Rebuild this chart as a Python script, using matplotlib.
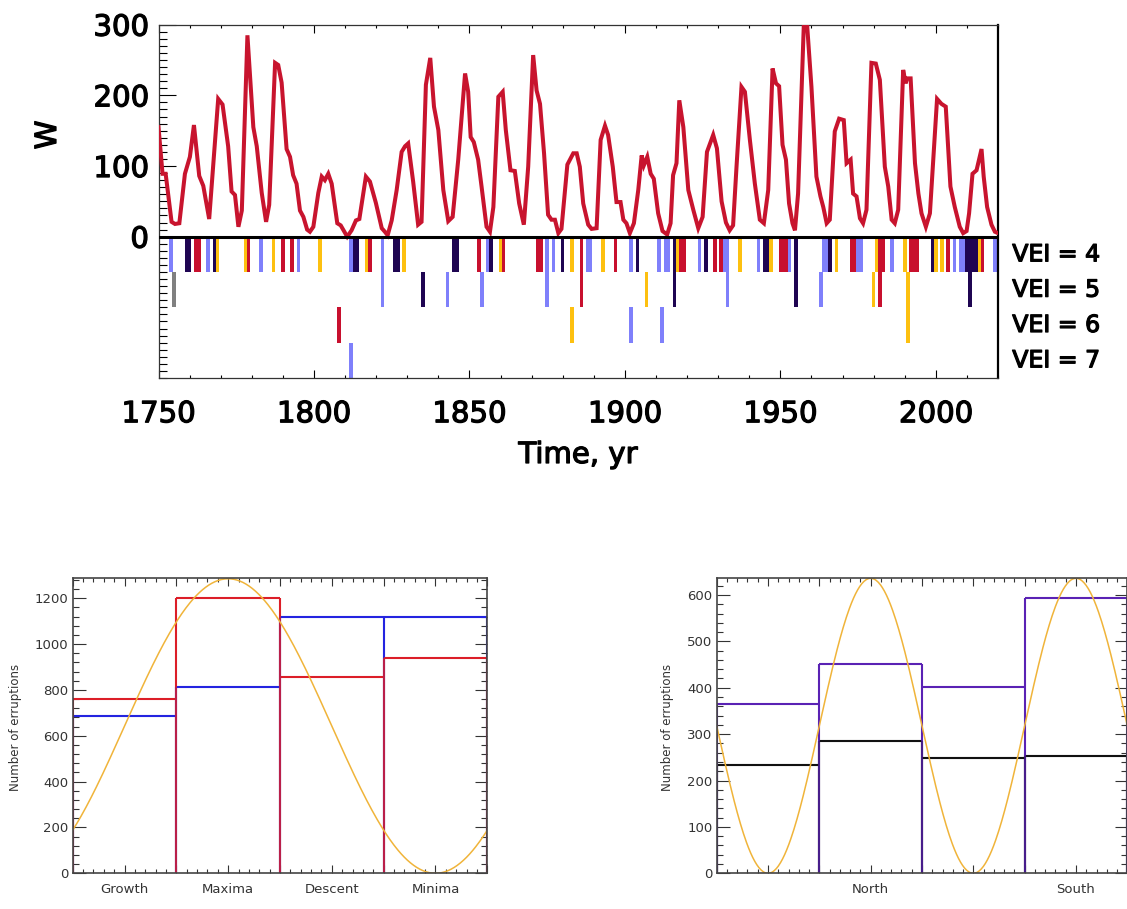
import matplotlib
matplotlib.use("Agg")
import matplotlib.pyplot as plt
from matplotlib.ticker import MultipleLocator, FixedLocator, FixedFormatter
import matplotlib.patheffects as pe
import numpy as np

# ---------------- data ----------------
# Sunspot number W (vertex points of the polyline)
sun_year = [1750.0, 1751.3, 1752.3, 1754.2, 1755.3, 1756.7, 1758.5, 1760.1, 1761.4, 1763.1,
            1764.4, 1766.3, 1769.2, 1770.6, 1772.4, 1773.5, 1774.6, 1775.7, 1776.8, 1778.6,
            1780.5, 1781.6, 1783.2, 1784.6, 1785.6, 1787.5, 1788.5, 1789.6, 1791.2, 1792.3,
            1793.3, 1794.4, 1795.5, 1796.6, 1797.8, 1798.7, 1799.8, 1801.4, 1802.5, 1803.5,
            1804.6, 1805.7, 1807.5, 1808.6, 1810.7, 1812.1, 1813.5, 1814.6, 1816.7, 1818.0,
            1819.9, 1821.8, 1822.8, 1823.7, 1825.0, 1826.6, 1828.2, 1829.3, 1830.3, 1831.9,
            1833.5, 1834.6, 1836.0, 1837.4, 1838.6, 1840.0, 1841.6, 1843.2, 1844.6, 1846.4,
            1848.6, 1849.6, 1850.4, 1851.4, 1852.8, 1853.9, 1855.5, 1856.6, 1857.7, 1859.3,
            1860.7, 1861.7, 1863.2, 1864.6, 1866.0, 1867.5, 1868.9, 1870.5, 1871.6, 1872.7,
            1874.0, 1875.3, 1876.4, 1877.5, 1878.6, 1879.6, 1881.5, 1883.4, 1884.5, 1885.5,
            1886.6, 1888.2, 1889.3, 1890.9, 1892.2, 1893.6, 1894.6, 1896.1, 1897.3, 1898.6,
            1899.5, 1900.5, 1901.6, 1902.9, 1904.3, 1905.4, 1906.1, 1907.2, 1908.3, 1909.3,
            1910.7, 1912.1, 1913.6, 1914.7, 1915.5, 1916.6, 1917.5, 1918.8, 1920.4, 1922.0,
            1923.6, 1925.0, 1926.4, 1928.4, 1929.6, 1931.1, 1932.5, 1933.7, 1934.8, 1935.9,
            1937.5, 1938.6, 1940.2, 1941.8, 1943.4, 1944.7, 1946.1, 1947.5, 1948.6, 1949.6,
            1950.7, 1951.8, 1952.8, 1953.9, 1954.7, 1955.7, 1957.6, 1958.6, 1960.0, 1961.6,
            1962.9, 1963.8, 1964.9, 1965.9, 1967.5, 1968.9, 1970.4, 1971.3, 1972.6, 1973.4,
            1974.5, 1975.6, 1976.6, 1977.7, 1979.3, 1980.7, 1982.0, 1983.6, 1984.7, 1985.8,
            1986.8, 1987.9, 1989.5, 1990.3, 1990.8, 1991.9, 1993.3, 1994.4, 1995.4, 1996.8,
            1998.1, 2000.4, 2001.8, 2003.2, 2004.7, 2006.1, 2007.7, 2008.8, 2009.9, 2010.7,
            2011.8, 2013.1, 2014.7, 2015.4, 2016.5, 2017.9, 2019.0, 2020.0]
sun_w = [155, 89, 89, 21, 18, 19, 89, 113, 158, 86,
         72, 25, 195, 187, 128, 64, 59, 14, 37, 285,
         155, 128, 62, 21, 45, 246, 243, 218, 124, 113,
         87, 75, 37, 28, 10, 7, 14, 62, 85, 80,
         89, 75, 19, 16, 0, 9, 23, 25, 85, 78,
         48, 12, 7, 2, 23, 66, 120, 128, 132, 78,
         17, 21, 215, 253, 184, 151, 66, 22, 28, 109,
         231, 205, 141, 134, 109, 71, 14, 7, 42, 198,
         205, 151, 94, 93, 47, 17, 99, 257, 207, 188,
         118, 31, 24, 24, 5, 11, 102, 118, 118, 99,
         47, 17, 11, 12, 137, 157, 144, 99, 49, 49,
         24, 19, 5, 19, 66, 115, 101, 113, 89, 82,
         33, 8, 3, 19, 87, 104, 193, 155, 66, 38,
         12, 28, 120, 144, 125, 50, 20, 9, 16, 99,
         212, 205, 137, 75, 24, 19, 66, 238, 217, 213,
         130, 109, 47, 19, 9, 61, 307, 300, 212, 85,
         57, 42, 19, 24, 149, 167, 165, 104, 109, 61,
         57, 26, 19, 38, 246, 245, 222, 99, 71, 24,
         19, 38, 236, 217, 224, 224, 104, 61, 33, 14,
         33, 195, 188, 184, 71, 42, 14, 5, 8, 33,
         89, 94, 124, 85, 42, 17, 7, 5]

# Eruptions: year and phase code (B light blue, N navy, R red, G gold, K grey)
vei4_year = [1754, 1759, 1760, 1762, 1763, 1766, 1768, 1769, 1778, 1779, 1783, 1787, 1790, 1793,
             1795, 1802, 1812, 1813, 1814, 1817, 1818, 1822, 1826, 1827, 1829, 1845, 1846, 1853,
             1856, 1857, 1860, 1861, 1872, 1873, 1875, 1877, 1880, 1883, 1886, 1888, 1889, 1893,
             1897, 1902, 1904, 1911, 1913, 1914, 1916, 1917, 1918, 1919, 1924, 1926, 1929, 1931,
             1932, 1933, 1937, 1943, 1945, 1946, 1947, 1950, 1951, 1952, 1953, 1955, 1964, 1965,
             1966, 1968, 1973, 1974, 1975, 1976, 1981, 1982, 1983, 1986, 1990, 1992, 1993, 1994,
             1999, 2000, 2002, 2004, 2006, 2008, 2009, 2010, 2011, 2012, 2013, 2014, 2015, 2019]
vei4_phase = ['B', 'N', 'N', 'R', 'R', 'B', 'N', 'G', 'G', 'R', 'B', 'G', 'R', 'R',
              'B', 'G', 'B', 'N', 'N', 'G', 'R', 'B', 'N', 'N', 'G', 'N', 'N', 'R',
              'B', 'N', 'G', 'R', 'R', 'R', 'B', 'B', 'N', 'G', 'R', 'B', 'B', 'G',
              'R', 'B', 'N', 'B', 'B', 'B', 'N', 'G', 'R', 'R', 'B', 'N', 'R', 'R',
              'B', 'B', 'G', 'B', 'N', 'N', 'G', 'R', 'R', 'R', 'B', 'N', 'B', 'B',
              'N', 'G', 'R', 'R', 'B', 'B', 'G', 'R', 'R', 'B', 'G', 'R', 'R', 'R',
              'N', 'G', 'G', 'R', 'B', 'B', 'B', 'N', 'N', 'N', 'N', 'G', 'R', 'B']
vei5_year = [1755, 1822, 1835, 1843, 1854, 1875, 1886, 1907, 1916, 1933, 1955, 1963, 1980, 1982, 1991, 2011]
vei5_phase = ['K', 'B', 'N', 'B', 'B', 'B', 'R', 'G', 'N', 'B', 'N', 'B', 'G', 'R', 'G', 'N']
vei6_year = [1808, 1883, 1902, 1912, 1991]
vei6_phase = ['R', 'G', 'B', 'B', 'G']
vei7_year = [1812]
vei7_phase = ['B']

# Histograms (bottom panels)
phase_labels = ['Growth', 'Maxima', 'Descent', 'Minima']
phase_red = [760, 1200, 857, 940]
phase_blue = [688, 812, 1120, 1117]
hemi_labels = ['North', 'South']
hemi_purple = [366, 452, 401, 594]
hemi_black = [234, 286, 248, 253]

# ---------------- style ----------------
phase_colors = {'B': '#7f80fb', 'N': '#1f0552', 'R': '#c8102e', 'G': '#fdc010', 'K': '#808080'}
curve_red = '#c8142e'
gold = '#f0b43a'

W, H = 1127, 909
fig = plt.figure(figsize=(W / 100, H / 100), dpi=100)

def fr(x0, y0, x1, y1):
    return [x0 / W, 1 - y1 / H, (x1 - x0) / W, (y1 - y0) / H]

thick = [pe.withStroke(linewidth=0.9, foreground='black')]
big_font = dict(family='DejaVu Sans', weight='normal')

# ---------------- top panel ----------------
ax = fig.add_axes(fr(158.5, 24.7, 998, 378))
ax.set_xlim(1750, 2020)
ax.set_ylim(-200, 300)
ax.plot(sun_year, sun_w, color=curve_red, lw=2.9, solid_joinstyle='miter', zorder=3)
ax.axhline(0, color='black', lw=2.2, zorder=4)

rows = [(vei4_year, vei4_phase, 0), (vei5_year, vei5_phase, -50),
        (vei6_year, vei6_phase, -100), (vei7_year, vei7_phase, -150)]
for yrs, ph, top in rows:
    for yv, p in zip(yrs, ph):
        ax.bar(yv, -50, bottom=top, width=1.15, color=phase_colors[p], linewidth=0, zorder=2)

ax.xaxis.set_major_locator(MultipleLocator(50))
ax.xaxis.set_minor_locator(MultipleLocator(10))
ax.yaxis.set_major_locator(FixedLocator([0, 100, 200, 300]))
ax.yaxis.set_minor_locator(MultipleLocator(10))
ax.tick_params(axis='x', which='both', direction='in', top=True, bottom=True, labelsize=21, pad=16)
ax.tick_params(axis='x', which='major', length=6, width=0.8)
ax.tick_params(axis='x', which='minor', length=2.5, width=0.8)
ax.tick_params(axis='y', which='both', direction='in', left=True, right=False, labelsize=21, pad=7)
ax.tick_params(axis='y', which='major', length=12, width=0.8)
ax.tick_params(axis='y', which='minor', length=6, width=0.8)
for lab in ax.get_xticklabels() + ax.get_yticklabels():
    lab.set_path_effects(thick)
for s in ax.spines.values():
    s.set_linewidth(0.9)
    s.set_color('#333333')
ax.spines['right'].set_linewidth(1.6)
ax.spines['right'].set_color('black')

for i, lab in enumerate(['VEI = 4', 'VEI = 5', 'VEI = 6', 'VEI = 7']):
    ax.text(1.017, -25 - 50 * i, lab, transform=ax.get_yaxis_transform(),
            ha='left', va='center', fontsize=17, path_effects=thick, **big_font)

fig.text(48 / W, 1 - 135 / H, 'W', rotation=90, ha='center', va='center', fontsize=21,
         path_effects=thick, **big_font)
fig.text(578 / W, 1 - 455 / H, 'Time, yr', ha='center', va='center', fontsize=21,
         path_effects=thick, **big_font)

# ---------------- bottom panels ----------------
def outline(a, values, color, lw=1.5, alpha=1.0, z=2):
    edges = np.arange(len(values) + 1)
    for i, v in enumerate(values):
        a.hlines(v, edges[i], edges[i + 1], color=color, lw=lw, alpha=alpha, zorder=z)
    tops = [max(values[i - 1] if i > 0 else 0, values[i] if i < len(values) else 0)
            for i in range(len(values) + 1)]
    a.vlines(edges, 0, tops, color=color, lw=lw, alpha=alpha, zorder=z)

def style_bottom(a, ymax, ymajor, yminor, labels, label_pos):
    a.set_xlim(0, 4)
    a.set_ylim(0, ymax)
    ticks = np.arange(0, 4.01, 0.5)
    names = []
    for t in ticks:
        name = ''
        for lp, lb in zip(label_pos, labels):
            if abs(t - lp) < 1e-6:
                name = lb
        names.append(name)
    a.xaxis.set_major_locator(FixedLocator(ticks))
    a.xaxis.set_major_formatter(FixedFormatter(names))
    a.xaxis.set_minor_locator(MultipleLocator(0.1))
    a.yaxis.set_major_locator(MultipleLocator(ymajor))
    a.yaxis.set_minor_locator(MultipleLocator(yminor))
    a.tick_params(which='both', direction='in', top=True, bottom=True, left=True, right=True,
                  labelsize=9.5, colors='#333333', width=0.8)
    a.tick_params(axis='x', which='major', length=6, pad=7)
    a.tick_params(axis='x', which='minor', length=3)
    a.tick_params(axis='y', which='major', length=9, pad=3)
    a.tick_params(axis='y', which='minor', length=4.5)
    for s in a.spines.values():
        s.set_linewidth(1.2)
        s.set_color('#444444')
        s.set_zorder(5)

centers = [0.5, 1.5, 2.5, 3.5]
xs = np.linspace(0, 4, 400)

axl = fig.add_axes(fr(72.7, 578.3, 487.3, 873.3))
outline(axl, phase_blue, '#2424e0', z=2)
outline(axl, phase_red, '#dc1e28', z=3)
outline(axl, phase_blue, '#2424e0', alpha=0.18, z=3.5)
axl.plot(xs, 642.5 + 642.5 * np.cos(2 * np.pi * (xs - 1.5) / 4), color=gold, lw=1.1, zorder=4)
style_bottom(axl, 1287, 200, 40, phase_labels, centers)

axr = fig.add_axes(fr(716.7, 578.3, 1127.3, 873.3))
outline(axr, hemi_black, '#111111', z=2)
outline(axr, hemi_purple, '#5a22b4', z=3)
outline(axr, hemi_black, '#111111', alpha=0.25, z=3.5)
axr.plot(xs, 318 + 318 * np.cos(np.pi * (xs - 1.5)), color=gold, lw=1.1, zorder=4)
style_bottom(axr, 636, 100, 20, hemi_labels, [1.5, 3.5])

fig.text(16 / W, 1 - 727 / H, 'Number of erruptions', rotation=90, ha='center', va='center',
         fontsize=8.5, color='#333333')
fig.text(668 / W, 1 - 727 / H, 'Number of erruptions', rotation=90, ha='center', va='center',
         fontsize=8.5, color='#333333')

fig.savefig('out.png', dpi=100)
